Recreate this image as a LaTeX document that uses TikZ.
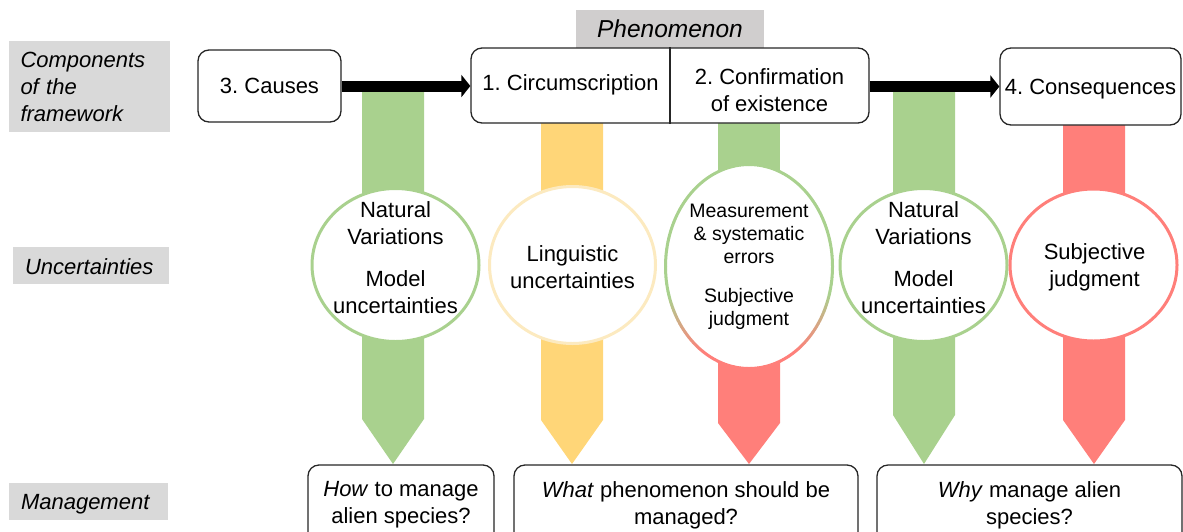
\documentclass[tikz,border=0pt]{standalone}
\usepackage{fontspec}
\setmainfont{Liberation Sans}
\usetikzlibrary{shapes.geometric,arrows.meta}
\definecolor{greenbar}{HTML}{A9D18E}
\definecolor{yellowbar}{HTML}{FFD678}
\definecolor{redbar}{HTML}{FF7F7A}
\definecolor{yellowcirc}{HTML}{FCEAC0}
\definecolor{lightgraybox}{HTML}{D9D9D9}
\definecolor{phengray}{HTML}{D0CECE}
\definecolor{edgec}{HTML}{262626}
\frenchspacing
\begin{document}
\begin{tikzpicture}[x=1pt,y=-1pt,
  every node/.style={font=\fontsize{22}{27}\selectfont, text=black},
  comp/.style={draw=edgec, line width=1.3pt, rounded corners=11pt, fill=white, align=center, inner sep=0pt},
  lab/.style={fill=lightgraybox, inner ysep=0pt, inner xsep=12pt, align=left, font=\fontsize{22}{27}\selectfont\itshape},
  unc/.style={ellipse, fill=white, line width=3pt, inner sep=0pt},
  ctext/.style={align=center, inner sep=0pt},
  smalltext/.style={align=center, inner sep=0pt, font=\fontsize{19.5}{23}\selectfont},
  flow/.style={line width=11pt, -{Triangle[length=9pt,width=22pt]}},
]
\useasboundingbox (0,0) rectangle (1183,531);
\clip (0,0) rectangle (1183,531);

% vertical bars (behind everything)
\fill[greenbar] (362,92) -- (424,92) -- (424,419) -- (393,464) -- (362,419) -- cycle;
\fill[yellowbar] (541,123) -- (603,123) -- (603,420) -- (572,464) -- (541,420) -- cycle;
\fill[greenbar] (718,123) rectangle (780,267);
\fill[redbar] (718,266) -- (780,266) -- (780,423) -- (749,464) -- (718,423) -- cycle;
\fill[greenbar] (893,92) -- (955,92) -- (955,415) -- (924,464) -- (893,415) -- cycle;
\fill[redbar] (1063,125) -- (1125,125) -- (1125,420) -- (1094,464) -- (1063,420) -- cycle;

% left labels
\node[lab, text width=137pt, minimum height=91pt] (lcomp) at (89,86.5) {Components\\of the\\framework};
\node[lab, text width=132pt, minimum height=37pt, text height=19pt] (lunc) at (91,265) {Uncertainties};
\node[lab, text width=135pt, minimum height=37pt, text depth=0pt] (lman) at (88.5,501.5) {Management};

% top row
\node[fill=phengray, minimum width=188pt, minimum height=38pt, inner sep=0pt,
      font=\fontsize{24.5}{29}\selectfont\itshape] (phenlab) at (670,29) {Phenomenon};
\node[comp, minimum width=143pt, minimum height=72pt] (causes) at (269.5,86) {3. Causes};
\node[comp, minimum width=398pt, minimum height=75pt] (phen) at (670,85.5) {};
\draw[draw=edgec, line width=1.3pt] (phen.north) -- (phen.south);
\node[ctext] (circ) at (570.5,85) {1. Circumscription};
\node[ctext] (conf) at (769.5,90.5) {2. Confirmation\\of existence};
\node[comp, minimum width=181pt, minimum height=77pt, text depth=0pt] (cons) at (1090.5,86.5) {4. Consequences};

\draw[flow] (causes.east) -- (causes.east -| phen.west);
\draw[flow] (phen.east |- cons.west) -- (cons.west);

% uncertainty ellipses
\node[unc, draw=greenbar, minimum width=167pt, minimum height=153pt] (u1) at (395.5,265) {};
\node[ctext] (t1) at (395.5,258) {Natural\\Variations\\[15pt]Model\\uncertainties};

\node[unc, draw=yellowcirc, minimum width=166pt, minimum height=157pt] (u2) at (572.5,265) {};
\node[ctext] (t2) at (572.5,267.5) {Linguistic\\uncertainties};

\node[unc, minimum width=167pt, minimum height=204pt] (u3) at (749,266.5) {};
\foreach \a in {0,2,...,358} {
  \pgfmathsetmacro\myy{266.5+102*sin(\a+1)}
  \pgfmathsetmacro\mymix{max(0,min(100,(\myy-295)/58*100))}
  \draw[line width=3pt, line cap=round, color=redbar!\mymix!greenbar]
    ({749+83.5*cos(\a)},{266.5+102*sin(\a)}) -- ({749+83.5*cos(\a+2)},{266.5+102*sin(\a+2)});
}
\node[smalltext] (t3) at (749,266.5) {Measurement\\\& systematic\\errors\\[16pt]Subjective\\judgment};

\node[unc, draw=greenbar, minimum width=167pt, minimum height=153pt] (u4) at (923.5,265) {};
\node[ctext] (t4) at (923.5,258) {Natural\\Variations\\[15pt]Model\\uncertainties};

\node[unc, draw=redbar, minimum width=167pt, minimum height=152pt] (u5) at (1093.5,265) {};
\node[ctext] (t5) at (1094.5,267.5) {Subjective\\judgment};

% management boxes
\node[comp, minimum width=186pt, minimum height=80pt] (m1) at (401,505) {\textit{How} to manage\\alien species?};
\node[comp, minimum width=344pt, minimum height=80pt] (m2) at (686,505) {\textit{What} phenomenon should be\\managed?};
\node[comp, minimum width=305pt, minimum height=80pt] (m3) at (1029.5,505) {\textit{Why} manage alien\\species?};
\end{tikzpicture}
\end{document}
